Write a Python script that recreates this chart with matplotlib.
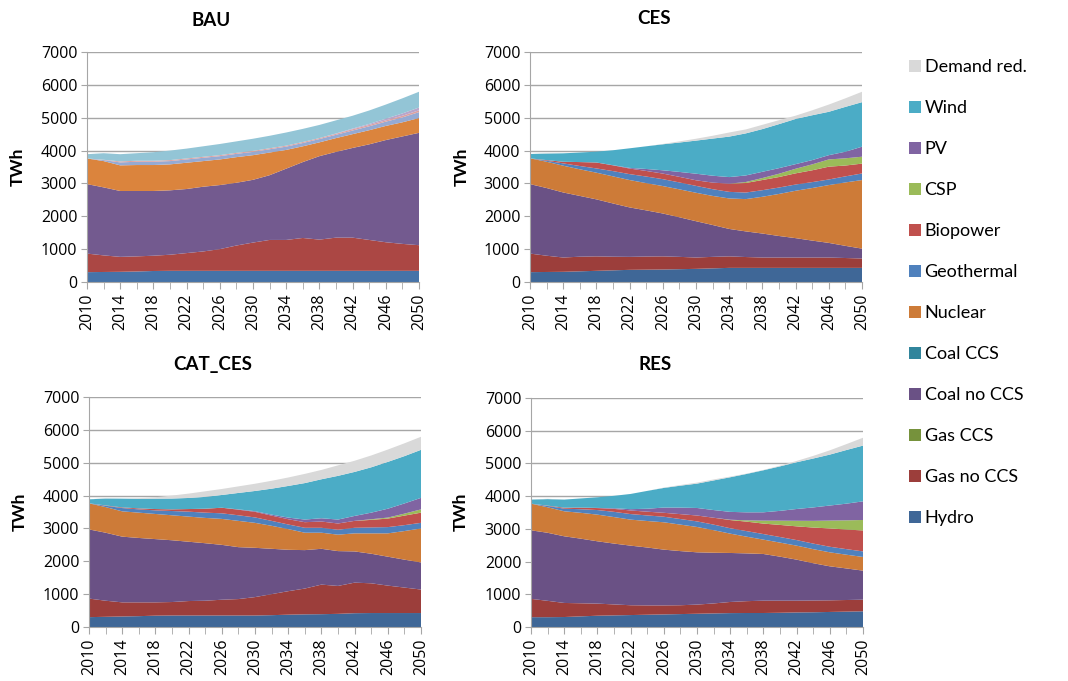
import numpy as np
import matplotlib
matplotlib.use("Agg")
import matplotlib.pyplot as plt
from matplotlib.patches import Patch

years = np.arange(2010, 2051, 2)
zeros = [0] * len(years)

# generation by source, TWh (bottom of the stack first)
sources = ["Hydro", "Gas no CCS", "Gas CCS", "Coal no CCS", "Coal CCS", "Nuclear",
           "Geothermal", "Biopower", "CSP", "PV", "Wind", "Demand red."]

# --- BAU ---
bau_hydro = [300, 305, 310, 320, 335, 340, 340, 340, 340, 340, 340, 340, 340, 340, 340, 340, 340, 340, 340, 340, 340]
bau_gas = [565, 505, 455, 460, 465, 490, 540, 590, 660, 770, 860, 940, 940, 1000, 950, 1010, 1010, 940, 870, 820, 780]
bau_coal = [2115, 2070, 2005, 1990, 1970, 1960, 1950, 1970, 1950, 1910, 1910, 1970, 2170, 2310, 2540, 2610, 2730, 2910, 3110, 3270, 3420]
bau_nuclear = [780, 800, 780, 790, 790, 790, 800, 780, 780, 780, 750, 690, 570, 480, 420, 420, 420, 430, 430, 430, 450]
bau_geo = [0, 30, 90, 100, 100, 100, 100, 100, 100, 100, 100, 100, 100, 100, 100, 100, 110, 120, 130, 150, 180]
bau_bio = [0, 10, 30, 30, 30, 30, 30, 30, 30, 30, 30, 30, 30, 30, 30, 30, 40, 40, 40, 50, 55]
bau_pv = [0, 0, 0, 0, 0, 0, 0, 0, 0, 0, 0, 0, 0, 0, 0, 10, 20, 30, 50, 70, 85]
bau_wind = [130, 200, 220, 230, 260, 290, 300, 320, 340, 350, 370, 380, 400, 400, 400, 400, 390, 410, 430, 460, 480]

# --- CES ---
ces_hydro = [300, 305, 310, 325, 340, 355, 370, 375, 380, 390, 400, 415, 430, 430, 430, 430, 430, 430, 430, 430, 430]
ces_gas = [565, 495, 435, 445, 440, 415, 395, 400, 400, 375, 345, 350, 350, 330, 315, 315, 315, 315, 315, 300, 285]
ces_coal = [2115, 2060, 1980, 1850, 1735, 1620, 1505, 1405, 1305, 1205, 1105, 970, 835, 780, 730, 655, 590, 515, 445, 370, 300]
ces_nuclear = [784, 800, 815, 810, 812, 825, 833, 830, 835, 850, 866, 885, 928, 983, 1119, 1280, 1442, 1600, 1760, 1930, 2088]
ces_geo = [0, 30, 70, 100, 130, 160, 180, 200, 210, 210, 210, 205, 200, 200, 200, 195, 190, 180, 170, 185, 200]
ces_bio = [0, 20, 50, 120, 180, 175, 170, 170, 170, 170, 170, 200, 250, 290, 310, 320, 340, 360, 390, 330, 300]
ces_csp = [0, 0, 0, 0, 0, 0, 0, 0, 0, 0, 0, 0, 0, 30, 60, 100, 140, 180, 220, 220, 210]
ces_pv = [0, 0, 0, 0, 0, 5, 20, 60, 100, 150, 200, 210, 200, 200, 190, 170, 140, 130, 130, 200, 305]
ces_wind = [132, 200, 256, 290, 330, 455, 596, 690, 791, 895, 1007, 1130, 1232, 1280, 1300, 1340, 1375, 1365, 1320, 1365, 1355]
ces_demand = [0, 10, 0, 0, 0, 0, 0, 0, 10, 35, 57, 85, 125, 120, 130, 120, 100, 150, 220, 260, 317]

# --- CAT_CES ---
cat_hydro = [300, 310, 320, 330, 345, 350, 350, 350, 350, 350, 350, 360, 375, 385, 390, 400, 420, 425, 425, 425, 425]
cat_gas = [565, 490, 430, 420, 405, 410, 440, 450, 480, 500, 560, 640, 715, 785, 900, 850, 930, 905, 835, 775, 715]
cat_coal = [2105, 2070, 2000, 1960, 1925, 1880, 1805, 1750, 1670, 1580, 1500, 1380, 1260, 1170, 1090, 1060, 950, 900, 880, 850, 825]
cat_nuclear = [794, 780, 770, 770, 765, 760, 765, 770, 790, 800, 760, 700, 630, 530, 490, 500, 550, 620, 710, 870, 1035]
cat_geo = [0, 40, 100, 100, 110, 130, 150, 160, 170, 170, 165, 150, 140, 150, 150, 150, 170, 180, 190, 180, 170]
cat_bio = [0, 10, 20, 30, 40, 50, 80, 120, 170, 170, 170, 160, 160, 170, 190, 190, 210, 230, 260, 290, 310]
cat_csp = [0, 0, 0, 0, 0, 0, 0, 0, 0, 0, 0, 0, 0, 0, 0, 0, 0, 20, 30, 60, 100]
cat_pv = [0, 0, 0, 0, 0, 0, 0, 0, 0, 10, 20, 30, 50, 80, 100, 120, 150, 200, 270, 310, 350]
cat_wind = [122, 210, 266, 290, 316, 330, 337, 360, 388, 500, 615, 790, 963, 1110, 1186, 1330, 1340, 1380, 1425, 1440, 1462]
cat_demand = [0, 10, 0, 20, 44, 90, 133, 170, 182, 200, 220, 240, 257, 280, 284, 320, 340, 360, 375, 390, 398]

# --- RES ---
res_hydro = [300, 300, 305, 325, 345, 355, 365, 375, 385, 395, 405, 415, 425, 428, 428, 435, 445, 450, 460, 470, 480]
res_gas = [560, 500, 430, 400, 370, 335, 300, 285, 275, 270, 280, 305, 340, 362, 377, 370, 360, 360, 355, 355, 355]
res_coal = [2096, 2080, 2038, 1975, 1905, 1860, 1822, 1770, 1705, 1655, 1598, 1550, 1498, 1460, 1427, 1345, 1254, 1140, 1040, 965, 888]
res_nuclear = [814, 780, 764, 790, 815, 810, 795, 810, 836, 810, 775, 690, 591, 510, 439, 430, 428, 430, 428, 420, 418]
res_geo = [0, 40, 80, 110, 140, 160, 170, 170, 170, 170, 170, 170, 165, 170, 170, 170, 170, 170, 170, 170, 170]
res_bio = [0, 10, 30, 50, 60, 90, 110, 115, 120, 150, 180, 210, 250, 290, 320, 370, 420, 490, 560, 600, 640]
res_csp = [0, 0, 0, 0, 0, 0, 0, 0, 0, 0, 0, 0, 10, 40, 90, 130, 170, 205, 240, 280, 320]
res_pv = [0, 0, 0, 0, 5, 20, 40, 90, 160, 200, 230, 235, 240, 245, 255, 300, 360, 410, 460, 510, 570]
res_wind = [124, 200, 247, 280, 325, 380, 465, 545, 600, 670, 745, 905, 1058, 1175, 1285, 1360, 1429, 1495, 1557, 1640, 1704]
res_demand = [0, 10, 0, 0, 0, 0, 0, 0, 10, 20, 30, 30, 20, 10, 10, 20, 40, 80, 130, 180, 240]

colors = ["#3f6797", "#9c3e3b", "#76923c", "#6a5185", "#31859c", "#cd7b38",
          "#4f81bd", "#c0504d", "#9bbb59", "#8064a2", "#4bacc6", "#d9d9d9"]
# the baseline panel is drawn in a lighter palette
bau_colors = ["#4673a8", "#ab4744", "#89a54e", "#735a8f", "#4198af", "#db843d",
              "#95aad3", "#dca0a0", "#b5ca8d", "#b8a5cb", "#93c5d6", "#d9d9d9"]

panels = [
    ("BAU", [bau_hydro, bau_gas, zeros, bau_coal, zeros, bau_nuclear, bau_geo,
             bau_bio, zeros, bau_pv, bau_wind, zeros], bau_colors,
     [87, 52, 419, 282], (211, 20), (18, 167)),
    ("CES", [ces_hydro, ces_gas, zeros, ces_coal, zeros, ces_nuclear, ces_geo,
             ces_bio, ces_csp, ces_pv, ces_wind, ces_demand], colors,
     [530, 52, 862, 282], (654, 19), (462, 167)),
    ("CAT_CES", [cat_hydro, cat_gas, zeros, cat_coal, zeros, cat_nuclear, cat_geo,
                 cat_bio, cat_csp, cat_pv, cat_wind, cat_demand], colors,
     [89, 397, 421, 627], (213, 364), (20, 512)),
    ("RES", [res_hydro, res_gas, zeros, res_coal, zeros, res_nuclear, res_geo,
             res_bio, res_csp, res_pv, res_wind, res_demand], colors,
     [531, 398, 863, 627], (655, 364), (461, 512)),
]

W, H = 1068, 681
fig = plt.figure(figsize=(W / 100, H / 100), dpi=100)
tick_font = "Open Sans"
label_font = "Lato"

for title, series, cols, box, tpos, ypos in panels:
    x0, y0, x1, y1 = box
    ax = fig.add_axes([x0 / W, 1 - y1 / H, (x1 - x0) / W, (y1 - y0) / H])
    ax.stackplot(years, *series, colors=cols, linewidth=0)
    ax.set_xlim(2010, 2050)
    ax.set_ylim(0, 7000)
    ax.set_yticks(range(0, 7001, 1000))
    ax.set_xticks(range(2010, 2051, 4))
    ax.set_xticks(years, minor=True)
    ax.grid(axis="y", color="#a6a6a6", linewidth=1)
    ax.set_axisbelow(True)
    for s in ["top", "right"]:
        ax.spines[s].set_visible(False)
    for s in ["left", "bottom"]:
        ax.spines[s].set_color("#a6a6a6")
    ax.tick_params(axis="y", length=4, color="#a6a6a6", pad=3)
    ax.tick_params(axis="x", which="both", length=5, color="#a6a6a6",
                   direction="out", pad=3)
    for lab in ax.get_yticklabels():
        lab.set_fontfamily(tick_font)
        lab.set_fontsize(11.5)
    for lab in ax.get_xticklabels():
        lab.set_fontfamily(tick_font)
        lab.set_fontsize(11.5)
        lab.set_rotation(90)
    fig.text(tpos[0] / W, 1 - tpos[1] / H, title, ha="center", va="center",
             fontsize=13.5, fontweight="bold", family=label_font)
    fig.text(ypos[0] / W, 1 - ypos[1] / H, "TWh", ha="center", va="center",
             rotation=90, fontsize=12.5, fontweight="bold", family=label_font)

handles = [Patch(facecolor=c, edgecolor="none", label=n)
           for n, c in zip(sources, colors)][::-1]
fig.legend(handles=handles, loc="upper left", bbox_to_anchor=(902 / W, 1 - 52 / H),
           frameon=False, prop={"family": label_font, "size": 13},
           handlelength=0.65, handleheight=0.65, handletextpad=0.2,
           labelspacing=1.385, borderaxespad=0)

fig.savefig("out.png", dpi=100)
